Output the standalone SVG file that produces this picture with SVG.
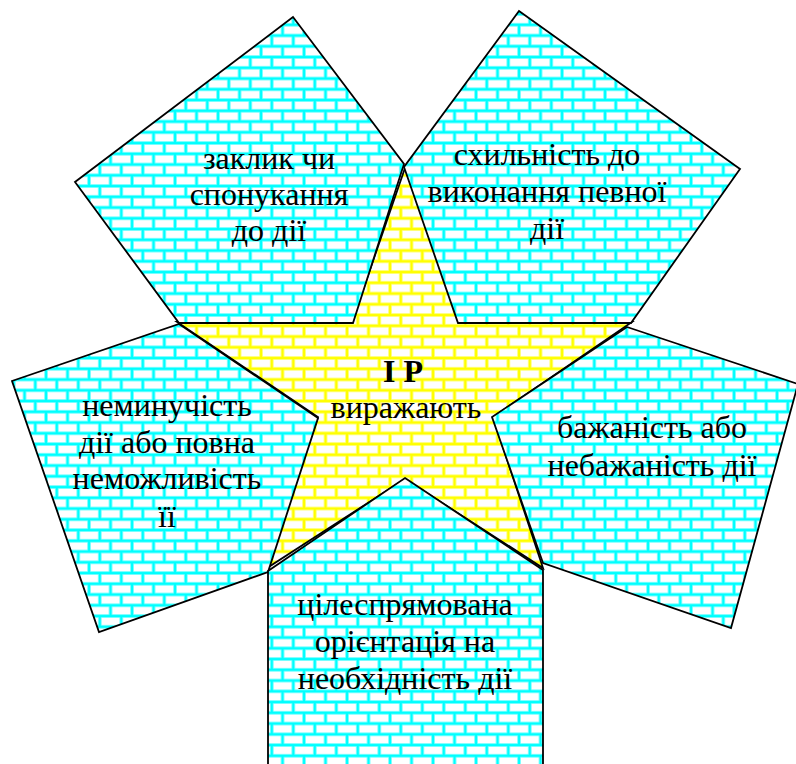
<svg xmlns="http://www.w3.org/2000/svg" width="796" height="764" viewBox="0 0 796 764">
<style>
  .shape { stroke: #000; stroke-width: 1.8; stroke-linejoin: miter; }
  .cyan { fill: url(#brickC); }
  .yellow { fill: url(#brickY); }
  text { font-family: "Liberation Serif", "Times New Roman", serif; font-size: 32px; fill: #000; text-anchor: middle; }
  .bold { font-weight: bold; }
</style>
<defs>
  <pattern id="brickC" patternUnits="userSpaceOnUse" x="293.3" y="723.55" width="21.5" height="21.5">
    <rect width="21.5" height="21.5" fill="#fff"/>
    <path d="M0,0H21.5M0,10.75H21.5M0,21.5H21.5M0,0V10.75M21.5,0V10.75M10.75,10.75V21.5" stroke="#a0ffff" stroke-width="3.8" fill="none"/>
    <path d="M0,0H21.5M0,10.75H21.5M0,21.5H21.5M0,0V10.75M21.5,0V10.75M10.75,10.75V21.5" stroke="#00ffff" stroke-width="2.4" fill="none"/>
  </pattern>
  <pattern id="brickY" patternUnits="userSpaceOnUse" x="293.3" y="723.55" width="21.5" height="21.5">
    <rect width="21.5" height="21.5" fill="#fff"/>
    <path d="M0,0H21.5M0,10.75H21.5M0,21.5H21.5M0,0V10.75M21.5,0V10.75M10.75,10.75V21.5" stroke="#ffffa0" stroke-width="3.8" fill="none"/>
    <path d="M0,0H21.5M0,10.75H21.5M0,21.5H21.5M0,0V10.75M21.5,0V10.75M10.75,10.75V21.5" stroke="#ffff00" stroke-width="2.4" fill="none"/>
  </pattern>
</defs>

<g id="star">
  <polygon class="shape yellow" points="405,168 459,322 632,322 493,417 543,568 405,479 267,568 318,417 177,322 352,322"/>
  <text class="bold" x="403" y="382">І Р</text>
  <text x="406" y="418">виражають</text>
</g>

<g id="node-top-left">
  <polygon class="shape cyan" points="293,17 404,164 353,323 179,323 75,182"/>
  <text x="269" y="169">заклик чи</text>
  <text x="269" y="205">спонукання</text>
  <text x="269" y="241">до дії</text>
</g>

<g id="node-top-right">
  <polygon class="shape cyan" points="519,11 740,169 631,323 458,323 404,167"/>
  <text x="547" y="165">схильність до</text>
  <text x="547" y="202">виконання певної</text>
  <text x="547" y="239">дії</text>
</g>

<g id="node-left">
  <polygon class="shape cyan" points="179,324 318,418 268,572 99,632 12,381"/>
  <text x="167" y="416">неминучість</text>
  <text x="167" y="453">дії або повна</text>
  <text x="167" y="489">неможливість</text>
  <text x="167" y="527">її</text>
</g>

<g id="node-right">
  <polygon class="shape cyan" points="627,327 798,384 731,628 543,563 492,417"/>
  <text x="652" y="438">бажаність або</text>
  <text x="652" y="476">небажаність дії</text>
</g>

<g id="node-bottom">
  <polygon class="shape cyan" points="405,478 543,570 543,770 268,770 268,571"/>
  <text x="405" y="615">цілеспрямована</text>
  <text x="405" y="652">орієнтація на</text>
  <text x="405" y="689">необхідність дії</text>
</g>
</svg>
